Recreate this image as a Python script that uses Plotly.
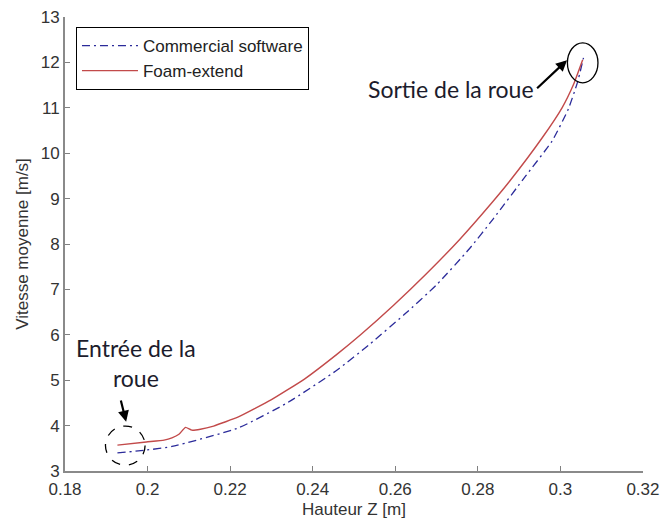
import plotly.graph_objects as go

# Foam-extend (red solid)
foam_x = [0.1927, 0.1997, 0.2040, 0.2059, 0.2076, 0.2092, 0.2107, 0.2128, 0.2160, 0.2220,
          0.2299, 0.2380, 0.2460, 0.2516, 0.2596, 0.2676, 0.2756, 0.2836, 0.2876, 0.2956,
          0.3004, 0.3032, 0.3054]
foam_y = [3.57, 3.64, 3.68, 3.73, 3.81, 3.96, 3.90, 3.92, 3.99, 4.19,
          4.565, 5.025, 5.58, 6.00, 6.65, 7.35, 8.10, 8.93, 9.37, 10.34,
          11.00, 11.52, 12.06]

# Commercial software (blue dash-dot)
comm_x = [0.1927, 0.1996, 0.2059, 0.2220, 0.2340, 0.2460, 0.2539, 0.2621, 0.2700, 0.2779,
          0.2837, 0.2916, 0.2980, 0.3019, 0.3041, 0.3056]
comm_y = [3.40, 3.46, 3.54, 3.95, 4.51, 5.23, 5.80, 6.44, 7.10, 7.89,
          8.55, 9.50, 10.27, 10.97, 11.55, 12.10]

x_ticks = [0.18, 0.2, 0.22, 0.24, 0.26, 0.28, 0.3, 0.32]
x_tick_text = ["0.18", "0.2", "0.22", "0.24", "0.26", "0.28", "0.3", "0.32"]
y_ticks = [3, 4, 5, 6, 7, 8, 9, 10, 11, 12, 13]

fig = go.Figure()
fig.add_trace(go.Scatter(x=comm_x, y=comm_y, mode="lines", name="Commercial software",
                         line=dict(color="#2b2b9a", width=1.3, dash="8px,4px,2px,4px",
                                   shape="spline", smoothing=0.5)))
fig.add_trace(go.Scatter(x=foam_x, y=foam_y, mode="lines", name="Foam-extend",
                         line=dict(color="#c24a4a", width=1.4, shape="spline", smoothing=0.4)))

base_font = "Liberation Sans, Arial, sans-serif"
axis_font = dict(family=base_font, size=17, color="#333333")
fig.update_xaxes(range=[0.18, 0.32001], tickvals=x_ticks, ticktext=x_tick_text,
                 ticks="inside", ticklen=5, tickcolor="#808080", showline=True,
                 linecolor="#8a8a8a", linewidth=2, showgrid=False, zeroline=False,
                 tickfont=axis_font, ticklabelstandoff=2, ticklabeloverflow="allow",
                 automargin=False,
                 title=dict(text="Hauteur Z [m]", font=axis_font, standoff=5))
fig.update_yaxes(range=[3, 13.0001], tickvals=y_ticks, ticks="inside", ticklen=5,
                 tickcolor="#808080", showline=True, linecolor="#8a8a8a", linewidth=2,
                 showgrid=False, zeroline=False, tickfont=axis_font, automargin=False,
                 title=dict(text="Vitesse moyenne [m/s]", font=axis_font, standoff=8))

# circles
fig.add_shape(type="circle", xref="x", yref="y", x0=0.1898, x1=0.1994, y0=3.13, y1=3.99,
              line=dict(color="black", width=1.3, dash="dash"))
fig.add_shape(type="circle", xref="x", yref="y", x0=0.3017, x1=0.3091, y0=11.55, y1=12.43,
              line=dict(color="black", width=1.3))

ann_font = dict(family="Lato, Open Sans, sans-serif", size=23, color="#1c1c2c")
fig.add_annotation(x=0.1973, y=5.38, xref="x", yref="y", text="Entrée de la<br>roue",
                   showarrow=False, font=ann_font, align="center")
fig.add_annotation(x=0.19481, y=4.086, ax=0.19344, ay=4.586, xref="x", yref="y",
                   axref="x", ayref="y", text="", showarrow=True, arrowhead=2,
                   arrowsize=1, arrowwidth=2.2, arrowcolor="black")
fig.add_annotation(x=0.2734, y=11.42, xref="x", yref="y", text="Sortie de la roue",
                   showarrow=False, font=ann_font)
fig.add_annotation(x=0.3016, y=12.05, ax=0.2940, ay=11.40, xref="x", yref="y",
                   axref="x", ayref="y", text="", showarrow=True, arrowhead=2,
                   arrowsize=1, arrowwidth=2.2, arrowcolor="black")

fig.update_layout(
    width=661, height=522,
    margin=dict(l=65, r=18, t=17, b=51, autoexpand=False),
    paper_bgcolor="white", plot_bgcolor="white",
    legend=dict(x=0.019, y=0.978, xanchor="left", yanchor="top",
                bordercolor="black", borderwidth=1, bgcolor="white",
                font=dict(family=base_font, size=17, color="#222222"),
                tracegroupgap=0, itemwidth=56),
    showlegend=True,
)

fig.write_html("out.html")
